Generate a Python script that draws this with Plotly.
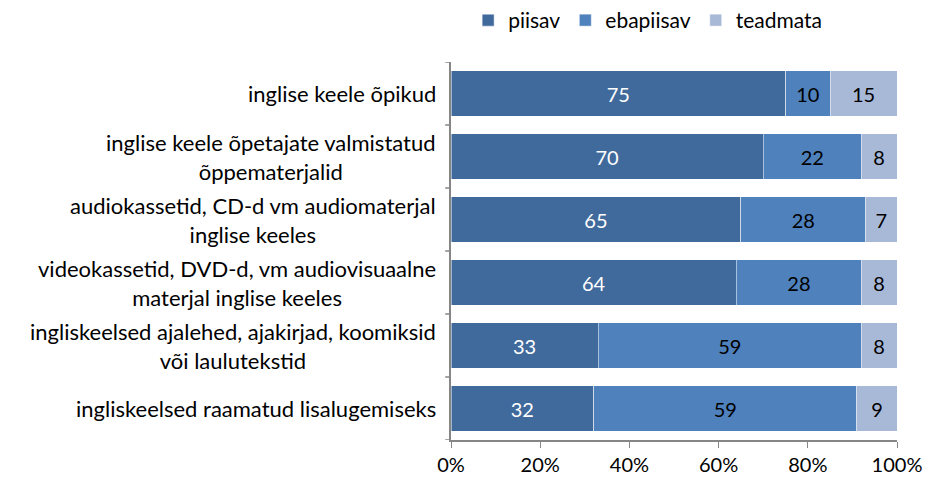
import plotly.graph_objects as go

categories = [
    "inglise keele õpikud",
    "inglise keele õpetajate valmistatud<br>õppematerjalid",
    "audiokassetid, CD-d vm audiomaterjal<br>inglise keeles",
    "videokassetid, DVD-d, vm audiovisuaalne<br>materjal inglise keeles",
    "ingliskeelsed ajalehed, ajakirjad, koomiksid<br>või laulutekstid",
    "ingliskeelsed raamatud lisalugemiseks",
]
piisav = [75, 70, 65, 64, 33, 32]
ebapiisav = [10, 22, 28, 28, 59, 59]
teadmata = [15, 8, 7, 8, 8, 9]

series = [
    ("piisav", piisav, "#416A9C", "white"),
    ("ebapiisav", ebapiisav, "#4F81BD", "black"),
    ("teadmata", teadmata, "#A8B9D8", "black"),
]

FONT = "Lato"
ids = list(range(len(categories)))

fig = go.Figure()
for name, vals, color, tcolor in series:
    fig.add_trace(go.Bar(
        name=name, y=ids, x=vals, orientation="h",
        marker=dict(color=color, line=dict(color="white", width=0.5)),
        text=[str(v) for v in vals], textposition="inside",
        insidetextanchor="middle",
        textfont=dict(color=tcolor, size=20, family=FONT),
        hoverinfo="skip",
    ))

# category labels as centred annotations to the left of the axis
for i, c in enumerate(categories):
    fig.add_annotation(
        x=0, xref="paper", y=i, yref="y", text=c, showarrow=False,
        xanchor="right", xshift=-13, align="center",
        font=dict(size=22, family=FONT, color="black"),
    )

fig.update_layout(
    barmode="stack", bargap=0.28,
    width=927, height=480,
    margin=dict(l=451, r=30, t=62, b=40, autoexpand=False),
    paper_bgcolor="white", plot_bgcolor="white",
    font=dict(family=FONT, size=20, color="black"),
    showlegend=True,
    legend=dict(orientation="h", x=0.505, xref="container", xanchor="left",
                y=1.0, yref="container", yanchor="top",
                font=dict(size=21, family=FONT),
                itemwidth=30, traceorder="normal"),
    uniformtext=dict(mode=False),
)
fig.update_xaxes(
    range=[0, 100], tickvals=[0, 20, 40, 60, 80, 100],
    ticktext=["0%", "20%", "40%", "60%", "80%", "100%"],
    showline=True, linecolor="#868686", linewidth=1.5,
    ticks="outside", ticklen=6, tickcolor="#868686",
    showgrid=False, zeroline=False, fixedrange=True, automargin=False,
    tickfont=dict(size=20, family=FONT),
)
fig.update_yaxes(
    range=[5.5, -0.5], tickvals=ids, showticklabels=False,
    showline=True, linecolor="#868686", linewidth=1.5,
    ticks="", showgrid=False, zeroline=False, fixedrange=True, automargin=False,
)
# boundary tick marks on the category axis
for b in [i - 0.5 for i in range(len(categories) + 1)]:
    fig.add_shape(type="line", xref="paper", x0=-0.013, x1=0, yref="y", y0=b, y1=b,
                  line=dict(color="#868686", width=1.5))

fig.write_html("out.html")
